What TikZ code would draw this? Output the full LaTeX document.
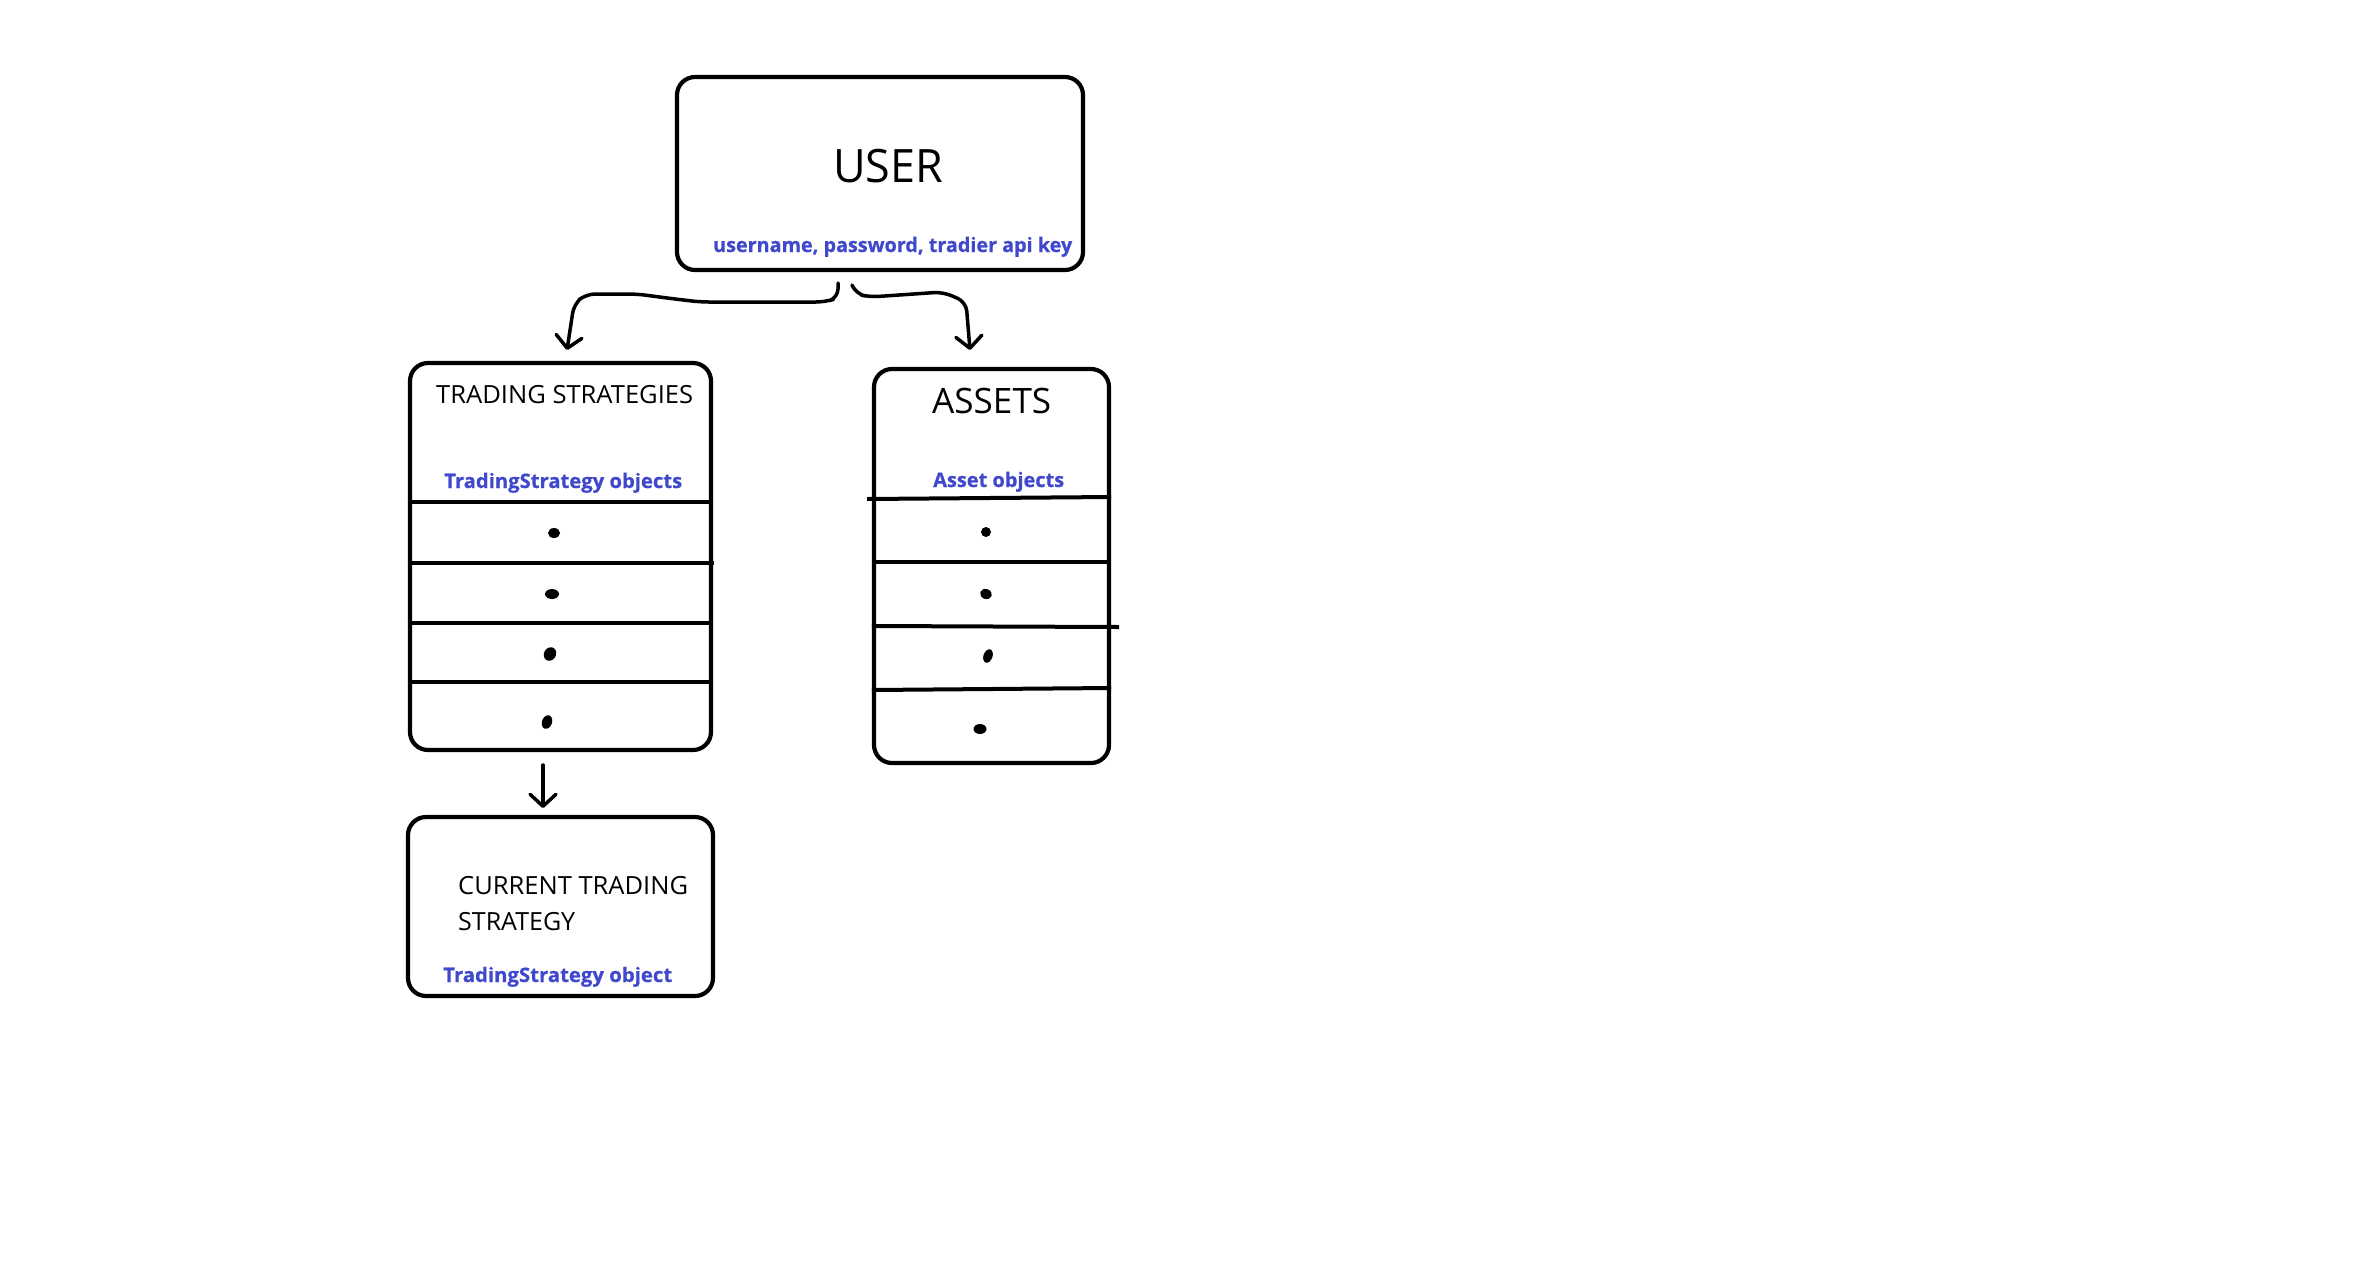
\documentclass[tikz,border=0pt]{standalone}
\usepackage{fontspec}
\setmainfont{Open Sans}
\newfontfamily\heavyfont[FakeBold=0.6]{Open Sans}
\usetikzlibrary{arrows.meta}
\definecolor{lblue}{RGB}{64,72,204}
\newcommand\fitw[2]{\resizebox{#1}{\height}{#2}}
\begin{document}
\begin{tikzpicture}[x=1pt,y=-1pt,
  box/.style={draw,line width=4.2pt,rounded corners=18pt,inner sep=0pt,rectangle},
  lbl/.style={inner sep=0pt,anchor=base west,text=black},
  blbl/.style={inner sep=0pt,anchor=base west,text=lblue},
  divider/.style={line width=4pt},
  conn/.style={line width=3.5pt,line cap=round,line join=round,rounded corners=9pt,
    -{Straight Barb[length=12pt,width=26pt,round]}},
  dot/.style={fill=black}]
\useasboundingbox (0,0) rectangle (2380,1264);
\fill[white] (0,0) rectangle (2380,1264);

% boxes
\node[box,minimum width=406pt,minimum height=193pt] (user) at (880,173.5) {};
\node[box,minimum width=301pt,minimum height=387pt] (ts) at (560.5,556.5) {};
\node[box,minimum width=235pt,minimum height=394pt] (assets) at (991.5,566) {};
\node[box,minimum width=305pt,minimum height=179pt] (cur) at (560.5,906.5) {};

% texts
\node[lbl] (tUser) at (833,182) {\fitw{110pt}{\fontsize{46}{50}\selectfont USER}};
\node[blbl] (tUserA) at (713,252) {\fitw{359pt}{\fontsize{20}{24}\selectfont\heavyfont\bfseries username, password, tradier api key}};
\node[lbl] (tTS) at (436,403) {\fitw{257pt}{\fontsize{25}{30}\selectfont TRADING STRATEGIES}};
\node[blbl] (tTSo) at (444,488) {\fitw{238pt}{\fontsize{20}{24}\selectfont\heavyfont\bfseries TradingStrategy objects}};
\node[lbl] (tAs) at (932,413) {\fitw{119pt}{\fontsize{35}{40}\selectfont ASSETS}};
\node[blbl] (tAso) at (933,487) {\fitw{131pt}{\fontsize{20}{24}\selectfont\heavyfont\bfseries Asset objects}};
\node[lbl] (tCur1) at (458,894) {\fitw{230pt}{\fontsize{25}{30}\selectfont CURRENT TRADING}};
\node[lbl] (tCur2) at (458,930) {\fontsize{25}{30}\selectfont\fitw{117pt}{STRATEGY}};
\node[blbl] (tCuro) at (443,982) {\fitw{229pt}{\fontsize{20}{24}\selectfont\heavyfont\bfseries TradingStrategy object}};

% dividers trading strategies
\draw[divider] (ts.west |- 0,502) -- (ts.east |- 0,502);
\draw[divider] (ts.west |- 0,563) -- (714,563);
\draw[divider] (ts.west |- 0,623) -- (ts.east |- 0,623);
\draw[divider] (ts.west |- 0,682) -- (ts.east |- 0,682);
% dividers assets
\draw[divider] (867,499) -- (assets.east |- 0,497);
\draw[divider] (assets.west |- 0,562) -- (assets.east |- 0,562);
\draw[divider] (assets.west |- 0,626) -- (1119,627);
\draw[divider] (assets.west |- 0,690) -- (assets.east |- 0,688);

% dots
\fill[dot] (554,533) ellipse [x radius=6pt,y radius=5pt];
\fill[dot] (552,594) ellipse [x radius=7pt,y radius=5pt];
\fill[dot,rotate around={60:(550,654)}] (550,654) ellipse [x radius=7pt,y radius=6pt];
\fill[dot,rotate around={70:(547,722)}] (547,722) ellipse [x radius=7pt,y radius=5pt];
\fill[dot] (986,532) ellipse [x radius=5pt,y radius=5pt];
\fill[dot,rotate around={-20:(986,594)}] (986,594) ellipse [x radius=6pt,y radius=5pt];
\fill[dot,rotate around={70:(988,656)}] (988,656) ellipse [x radius=7pt,y radius=4.5pt];
\fill[dot] (980,729) ellipse [x radius=6.5pt,y radius=5pt];

% connector anchors
\coordinate (uL) at (838,283);
\coordinate (uR) at (852,285);
\coordinate (tsIn) at (567,350);
\coordinate (asIn) at (970,350);
\coordinate (tsOut) at (543,765);
\coordinate (curIn) at (543,808);

\draw[conn] (uL) -- (838,298) -- (825,302) -- (700,302) -- (667,298) -- (637,294) -- (586,294) -- (574,304) -- (tsIn);
\draw[conn] (uR) -- (856,294) -- (870,297) -- (943,292) -- (966,302) -- (asIn);
\draw[conn,rounded corners=0pt] (tsOut) -- (curIn);
\end{tikzpicture}
\end{document}
